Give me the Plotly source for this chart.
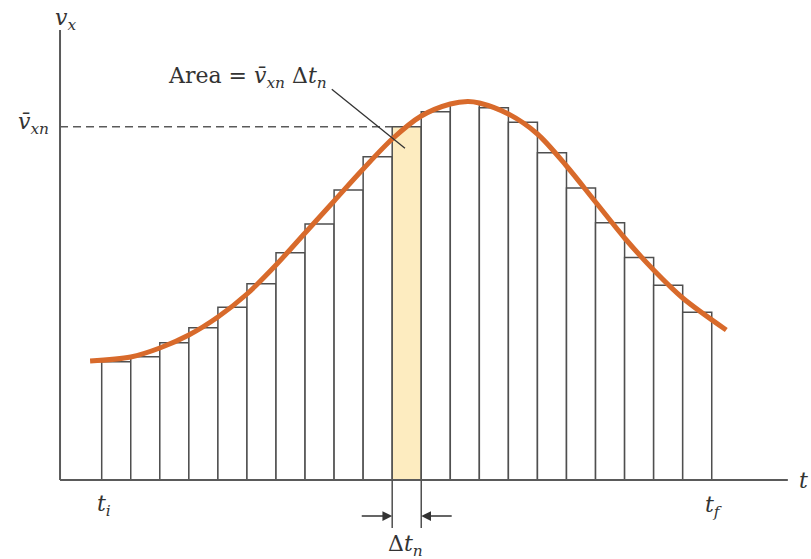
import plotly.graph_objects as go

# ---- data ----
# bar heights at each interval (21 equal intervals from t_i to t_f)
bar_heights = [11.83, 12.33, 13.73, 15.23, 17.27, 19.63, 22.73, 25.6, 29.0, 32.33,
               35.33, 36.83, 37.67, 37.23, 35.77, 32.73, 29.2, 25.73, 22.25, 19.47, 16.77]
highlight_index = 10

# smooth velocity curve samples
curve_t = [-0.4, 1, 2, 3, 4, 5, 6, 7, 8, 9, 10, 11, 12, 12.6, 13, 14, 15, 16, 17, 18, 19, 20, 21.5]
curve_v = [11.9, 12.3, 13.2, 14.5, 16.3, 18.6, 21.5, 24.7, 27.9, 31.1, 34.1, 36.4, 37.6, 37.85,
           37.7, 36.6, 34.6, 31.4, 27.8, 24.2, 21.0, 18.2, 15.0]

# ---- layout parameters ----
axis_t0 = -1.435      # where the v axis stands
axis_t1 = 23.62       # right end of the t axis
axis_vtop = 45.0      # top of the v axis
ext_below = -4.8      # extension of highlighted bar edges
arrow_v = -3.6
arrow_len = 1.1

AX = "#5a5a5a"
BAR_LINE = "#4f4f4f"
ORANGE = "#D86A2B"
HILITE = "#FDECC0"
FONT = "DejaVu Serif"

n = len(bar_heights)
mids = [i + 0.5 for i in range(n)]
colors = [HILITE if i == highlight_index else "white" for i in range(n)]

fig = go.Figure()
fig.add_trace(go.Bar(x=mids, y=bar_heights, width=1.0, marker=dict(color=colors,
              line=dict(color=BAR_LINE, width=1.5)), hoverinfo="skip", showlegend=False))
fig.add_trace(go.Scatter(x=curve_t, y=curve_v, mode="lines",
              line=dict(color=ORANGE, width=5, shape="spline", smoothing=0.9),
              hoverinfo="skip", showlegend=False))

hl_left = highlight_index
hl_right = highlight_index + 1
hl_v = bar_heights[highlight_index]

shapes = [
    dict(type="line", x0=axis_t0, x1=axis_t0, y0=0, y1=axis_vtop, line=dict(color=AX, width=2)),
    dict(type="line", x0=axis_t0, x1=axis_t1, y0=0, y1=0, line=dict(color=AX, width=2)),
    dict(type="line", x0=axis_t0, x1=hl_left, y0=hl_v, y1=hl_v,
         line=dict(color=AX, width=1.5, dash="8px,5px")),
    dict(type="line", x0=hl_left, x1=hl_left, y0=0, y1=ext_below, line=dict(color=BAR_LINE, width=1.5)),
    dict(type="line", x0=hl_right, x1=hl_right, y0=0, y1=ext_below, line=dict(color=BAR_LINE, width=1.5)),
    dict(type="line", x0=7.92, y0=39.07, x1=10.44, y1=33.17, line=dict(color="#333333", width=1.3)),
]

tf = dict(family=FONT, size=22, color="#333333")
annotations = [
    dict(x=5.01, y=40.3, text="Area = <i>v̄</i><sub><i>xn</i></sub> Δ<i>t</i><sub><i>n</i></sub>",
         showarrow=False, font=tf, xanchor="center", yanchor="middle"),
    dict(x=axis_t0 + 0.2, y=46.1, text="<i>v</i><sub><i>x</i></sub>", showarrow=False, font=tf,
         xanchor="center", yanchor="middle"),
    dict(x=axis_t0 - 0.93, y=hl_v + 0.3, text="<i>v̄</i><sub><i>xn</i></sub>", showarrow=False, font=tf,
         xanchor="center", yanchor="middle"),
    dict(x=axis_t1 + 0.55, y=0.0, text="<i>t</i>", showarrow=False, font=tf,
         xanchor="center", yanchor="middle"),
    dict(x=0.08, y=-2.5, text="<i>t</i><sub><i>i</i></sub>", showarrow=False, font=tf,
         xanchor="center", yanchor="middle"),
    dict(x=n + 0.05, y=-2.6, text="<i>t</i><sub><i>f</i></sub>", showarrow=False, font=tf,
         xanchor="center", yanchor="middle"),
    dict(x=hl_left + 0.45, y=-6.5, text="Δ<i>t</i><sub><i>n</i></sub>", showarrow=False, font=tf,
         xanchor="center", yanchor="middle"),
    dict(x=hl_left, y=arrow_v, ax=hl_left - arrow_len, ay=arrow_v, axref="x", ayref="y", text="",
         showarrow=True, arrowhead=2, arrowsize=1.3, arrowwidth=1.5, arrowcolor="#333333", standoff=0),
    dict(x=hl_right, y=arrow_v, ax=hl_right + arrow_len, ay=arrow_v, axref="x", ayref="y", text="",
         showarrow=True, arrowhead=2, arrowsize=1.3, arrowwidth=1.5, arrowcolor="#333333", standoff=0),
]

fig.update_layout(
    width=811, height=559, margin=dict(l=0, r=0, t=0, b=0),
    paper_bgcolor="white", plot_bgcolor="white",
    xaxis=dict(range=[-3.501, 24.417], visible=False),
    yaxis=dict(range=[-7.9, 48.0], visible=False),
    shapes=shapes, annotations=annotations, barmode="overlay", showlegend=False,
)
fig.write_html("out.html", config={"displayModeBar": False},
               post_script="document.body.style.margin='0px';document.body.style.overflow='hidden';")
